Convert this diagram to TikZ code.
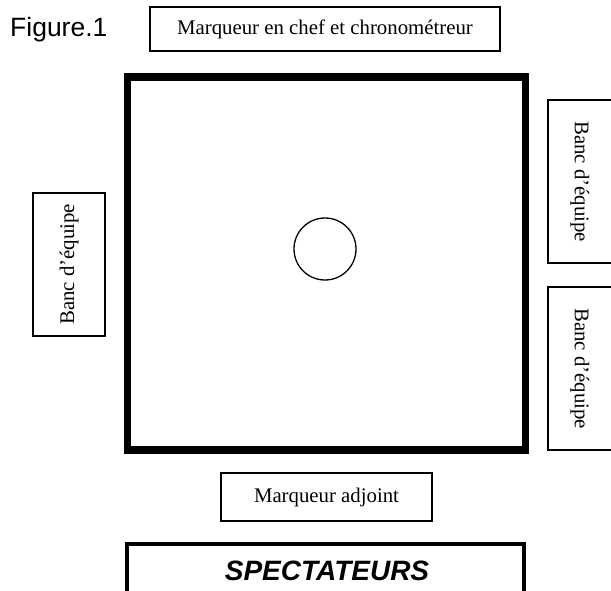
\documentclass[tikz,border=0pt]{standalone}
\usepackage{fontspec}
\setmainfont{Liberation Serif}
\newfontfamily\arialfont{Liberation Sans}
\begin{document}
\begin{tikzpicture}[x=1pt,y=-1pt,
  thinbox/.style={draw=black,line width=1.1pt,inner sep=0pt,font=\fontsize{20.8}{24}\selectfont},
  benchbox/.style={thinbox}]
\useasboundingbox (0,0) rectangle (611,591);
\clip (0,0) rectangle (611,591);
% title
\node[font=\arialfont\fontsize{26.5}{30}\selectfont,anchor=base west,inner sep=0pt] (title) at (10,37) {Figure.1};
% top box
\node[thinbox,minimum width=350pt,minimum height=44pt] (chef) at (325,29) {Marqueur en chef et chronométreur};
% court
\node[draw=black,line width=7.5pt,minimum width=398pt,minimum height=373pt,inner sep=0pt] (court) at (326.5,263.5) {};
\node[draw=black,line width=1.3pt,circle,minimum size=62pt,inner sep=0pt] (center) at (325,249) {};
% benches
\node[benchbox,rotate=90,minimum width=143pt,minimum height=72pt] (benchL) at (69,264.5) {Banc d’équipe};
\node[benchbox,rotate=-90,minimum width=163pt,minimum height=64pt] (benchR1) at (580,181.5) {Banc d’équipe};
\node[benchbox,rotate=-90,minimum width=163pt,minimum height=64pt] (benchR2) at (580,368.5) {Banc d’équipe};
% assistant scorer
\node[thinbox,minimum width=211pt,minimum height=48pt] (adjoint) at (326.5,497) {Marqueur adjoint};
% spectators
\draw[line width=4pt] (127,600) -- (127,544) -- (524,544) -- (524,600);
\node[font=\arialfont\bfseries\itshape\fontsize{28}{32}\selectfont,anchor=base,inner sep=0pt] (spect) at (327,580) {SPECTATEURS};
\end{tikzpicture}
\end{document}
